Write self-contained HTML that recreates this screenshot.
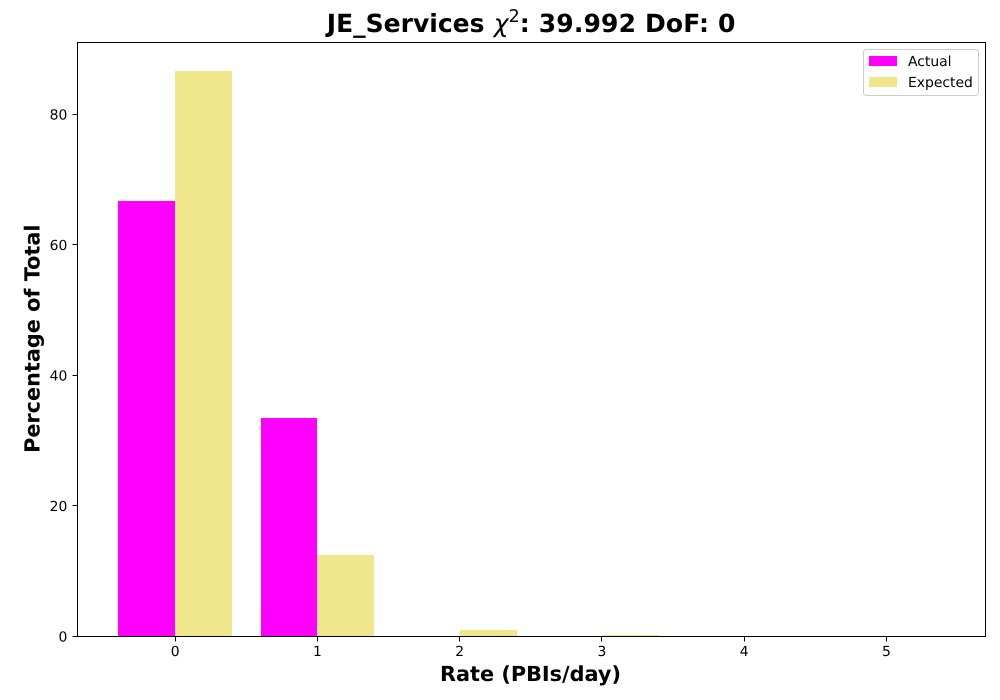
<!DOCTYPE html>
<html>
<head>
<meta charset="utf-8">
<style>
html,body{margin:0;padding:0;background:#fff;width:1000px;height:700px;overflow:hidden}
svg{display:block}
text{font-family:"DejaVu Sans","Liberation Sans",sans-serif;fill:#000;text-rendering:geometricPrecision}
</style>
</head>
<body>
<svg id="chart" xmlns="http://www.w3.org/2000/svg" width="1000" height="700" viewBox="0 0 1000 700">
  <rect x="0" y="0" width="1000" height="700" fill="#fff"/>
  <g id="bars"></g>
  <g id="ticks"></g>
  <rect x="77.5" y="42.5" width="908" height="594" fill="none" stroke="#000" stroke-width="1"/>
  <text x="326.8" y="32" font-size="25" font-weight="bold">JE_Services <tspan font-weight="normal" font-style="oblique" dx="0.6">χ</tspan><tspan font-weight="normal" font-size="17.5" dy="-10">2</tspan><tspan dy="10" letter-spacing="0.15">: 39.992 DoF: 0</tspan></text>
  <text x="530.5" y="681" text-anchor="middle" font-size="20.8" font-weight="bold">Rate (PBIs/day)</text>
  <text transform="translate(39.5,338.7) rotate(-90)" text-anchor="middle" font-size="20.8" font-weight="bold">Percentage of Total</text>
  <g>
    <rect x="863.5" y="49.5" width="115" height="46" rx="3" fill="#fff" fill-opacity="0.8" stroke="#ccc" stroke-width="1"/>
    <rect x="869" y="56" width="28" height="10" fill="#ff00ff"/>
    <text x="908" y="66" font-size="13.9">Actual</text>
    <rect x="869" y="77" width="28" height="10" fill="#f0e68c"/>
    <text x="908" y="87" font-size="13.9">Expected</text>
  </g>
</svg>
<script>
const categories = [0, 1, 2, 3, 4, 5];
const actualValues = [66.67, 33.4, 0, 0, 0, 0];
const expectedValues = [86.65, 12.4, 0.9, 0.05, 0, 0];
const xTickLabels = ["0", "1", "2", "3", "4", "5"];
const yTickValues = [0, 20, 40, 60, 80];

const SVG_NS = "http://www.w3.org/2000/svg";
const barsGroup = document.getElementById("bars");
const ticksGroup = document.getElementById("ticks");

function xScale(v) { return 175.2 + v * 142.25; }
function yScale(v) { return 636.2 - v * 6.525; }
const barWidthUnits = 0.4;
const baselineY = 636;

function addBar(cat, val, offset, color, name) {
  if (val <= 0) return;
  const left = Math.round(xScale(cat + offset));
  const right = Math.round(xScale(cat + offset + barWidthUnits));
  const top = Math.min(Math.round(yScale(val)), baselineY - 1);
  const r = document.createElementNS(SVG_NS, "rect");
  r.setAttribute("x", left);
  r.setAttribute("y", top);
  r.setAttribute("width", right - left);
  r.setAttribute("height", baselineY - top);
  r.setAttribute("fill", color);
  
  
  barsGroup.appendChild(r);
}

categories.forEach(function (c, i) {
  addBar(c, actualValues[i], -barWidthUnits, "#ff00ff", "bar-actual-" + c);
  addBar(c, expectedValues[i], 0, "#f0e68c", "bar-expected-" + c);
});

function addLine(x1, y1, x2, y2, name) {
  const l = document.createElementNS(SVG_NS, "line");
  l.setAttribute("x1", x1);
  l.setAttribute("y1", y1);
  l.setAttribute("x2", x2);
  l.setAttribute("y2", y2);
  l.setAttribute("stroke", "#000");
  l.setAttribute("stroke-width", "1");
  
  
  ticksGroup.appendChild(l);
}

function addLabel(x, y, anchor, str, name) {
  const t = document.createElementNS(SVG_NS, "text");
  t.setAttribute("x", x);
  t.setAttribute("y", y);
  t.setAttribute("text-anchor", anchor);
  t.setAttribute("font-size", "13.9");
  t.textContent = str;
  
  
  ticksGroup.appendChild(t);
}

categories.forEach(function (c, i) {
  const x = Math.floor(xScale(c)) + 0.5;
  addLine(x, 636.5, x, 641.5, "x-tick-mark-" + c);
  addLabel(xScale(c), 656, "middle", xTickLabels[i], "x-tick-label-" + c);
});

yTickValues.forEach(function (v) {
  const y = Math.floor(yScale(v)) + 0.5;
  addLine(72.5, y, 77.5, y, "y-tick-mark-" + v);
  addLabel(67.3, yScale(v) + 5.2, "end", String(v), "y-tick-label-" + v);
});
</script>
</body>
</html>
